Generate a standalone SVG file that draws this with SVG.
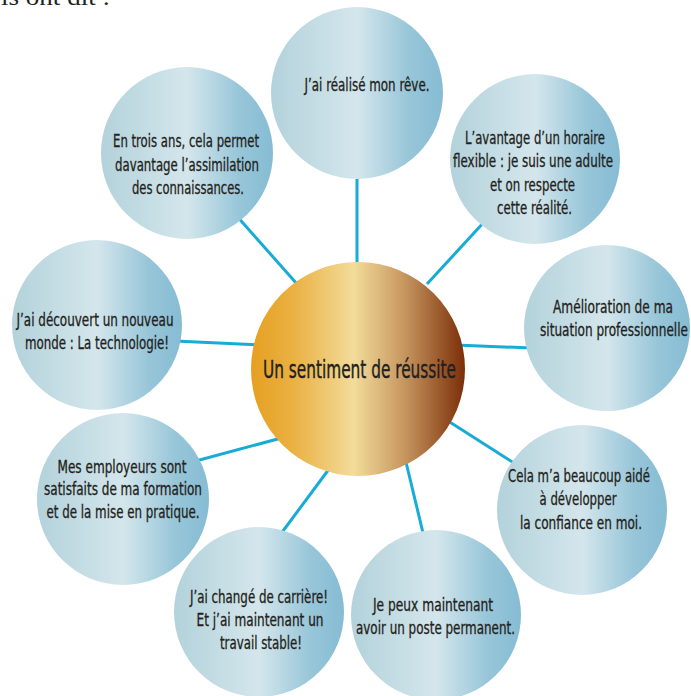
<svg xmlns="http://www.w3.org/2000/svg" width="691" height="696" viewBox="0 0 691 696">
<defs>
<linearGradient id="blue" x1="0" y1="0" x2="1" y2="0">
<stop offset="0" stop-color="#b3d2db"/>
<stop offset="0.5" stop-color="#d4e6ec"/>
<stop offset="0.8" stop-color="#98c6d9"/>
<stop offset="1" stop-color="#86bcd3"/>
</linearGradient>
<linearGradient id="gold" x1="0" y1="0" x2="1" y2="0">
<stop offset="0" stop-color="#e5a021"/>
<stop offset="0.2" stop-color="#eab143"/>
<stop offset="0.48" stop-color="#f3dc9a"/>
<stop offset="0.72" stop-color="#c6955e"/>
<stop offset="1" stop-color="#7b2e08"/>
</linearGradient>
</defs>
<style>
.b{fill:url(#blue)}
.g{fill:url(#gold)}
.t{font-family:'Liberation Sans Narrow','DejaVu Sans Condensed','Liberation Sans',sans-serif;font-size:17px;fill:#231f20;stroke:#231f20;stroke-width:0.3;text-anchor:middle}
.c{font-size:25px;stroke-width:0.4}
.h{font-family:'Liberation Serif',serif;font-size:24px;fill:#231f20}
#connectors line{stroke:#17abd6;stroke-width:3}
</style>
<rect width="691" height="696" fill="#fff"/>
<text class="h" x="1" y="5" textLength="109" lengthAdjust="spacingAndGlyphs">ls ont dit :</text>
<g id="connectors">
<line x1="357" y1="170" x2="357" y2="270"/>
<line x1="235" y1="214" x2="297" y2="284"/>
<line x1="485" y1="221" x2="427" y2="284"/>
<line x1="175" y1="341" x2="260" y2="345"/>
<line x1="455" y1="345" x2="532" y2="348"/>
<line x1="192" y1="462" x2="285" y2="437"/>
<line x1="332" y1="465" x2="280" y2="535"/>
<line x1="405" y1="458" x2="424" y2="537"/>
<line x1="445" y1="419" x2="517" y2="465"/>
</g>
<g id="center">
<circle class="g" cx="358" cy="369" r="107"/>
<text class="t c" x="359.5" y="378" textLength="193" lengthAdjust="spacingAndGlyphs">Un sentiment de réussite</text>
</g>
<g id="n1">
<circle class="b" cx="357" cy="93" r="86"/>
<text class="t" x="367" y="91" textLength="125" lengthAdjust="spacingAndGlyphs">J’ai réalisé mon rêve.</text>
</g>
<g id="n2">
<circle class="b" cx="187" cy="153" r="86"/>
<text class="t" x="186" y="147" textLength="146" lengthAdjust="spacingAndGlyphs">En trois ans, cela permet</text>
<text class="t" x="187" y="171" textLength="144" lengthAdjust="spacingAndGlyphs">davantage l’assimilation</text>
<text class="t" x="188" y="194" textLength="112" lengthAdjust="spacingAndGlyphs">des connaissances.</text>
</g>
<g id="n3">
<circle class="b" cx="535" cy="159" r="85"/>
<text class="t" x="535" y="144" textLength="140" lengthAdjust="spacingAndGlyphs">L’avantage d’un horaire</text>
<text class="t" x="533" y="167" textLength="160" lengthAdjust="spacingAndGlyphs">flexible : je suis une adulte</text>
<text class="t" x="532.5" y="191" textLength="85" lengthAdjust="spacingAndGlyphs">et on respecte</text>
<text class="t" x="534.5" y="214" textLength="75" lengthAdjust="spacingAndGlyphs">cette réalité.</text>
</g>
<g id="n4">
<circle class="b" cx="607" cy="328" r="83"/>
<text class="t" x="613" y="313" textLength="120" lengthAdjust="spacingAndGlyphs">Amélioration de ma</text>
<text class="t" x="614" y="336" textLength="148" lengthAdjust="spacingAndGlyphs">situation professionnelle</text>
</g>
<g id="n5">
<circle class="b" cx="97" cy="325" r="85"/>
<text class="t" x="95" y="326" textLength="157" lengthAdjust="spacingAndGlyphs">J’ai découvert un nouveau</text>
<text class="t" x="97" y="349" textLength="144" lengthAdjust="spacingAndGlyphs">monde : La technologie!</text>
</g>
<g id="n6">
<circle class="b" cx="123" cy="499" r="86"/>
<text class="t" x="122" y="473" textLength="129" lengthAdjust="spacingAndGlyphs">Mes employeurs sont</text>
<text class="t" x="123" y="495" textLength="158" lengthAdjust="spacingAndGlyphs">satisfaits de ma formation</text>
<text class="t" x="123" y="518" textLength="153" lengthAdjust="spacingAndGlyphs">et de la mise en pratique.</text>
</g>
<g id="n7">
<circle class="b" cx="582" cy="510" r="85"/>
<text class="t" x="579" y="482" textLength="142" lengthAdjust="spacingAndGlyphs">Cela m’a beaucoup aidé</text>
<text class="t" x="578" y="505" textLength="77" lengthAdjust="spacingAndGlyphs">à développer</text>
<text class="t" x="581" y="529" textLength="122" lengthAdjust="spacingAndGlyphs">la confiance en moi.</text>
</g>
<g id="n8">
<circle class="b" cx="259" cy="612" r="85"/>
<text class="t" x="259" y="603" textLength="138" lengthAdjust="spacingAndGlyphs">J’ai changé de carrière!</text>
<text class="t" x="260" y="626" textLength="127" lengthAdjust="spacingAndGlyphs">Et j’ai maintenant un</text>
<text class="t" x="261" y="649" textLength="82" lengthAdjust="spacingAndGlyphs">travail stable!</text>
</g>
<g id="n9">
<circle class="b" cx="436" cy="615" r="85"/>
<text class="t" x="433" y="611" textLength="120" lengthAdjust="spacingAndGlyphs">Je peux maintenant</text>
<text class="t" x="435.5" y="634" textLength="159" lengthAdjust="spacingAndGlyphs">avoir un poste permanent.</text>
</g>
</svg>
